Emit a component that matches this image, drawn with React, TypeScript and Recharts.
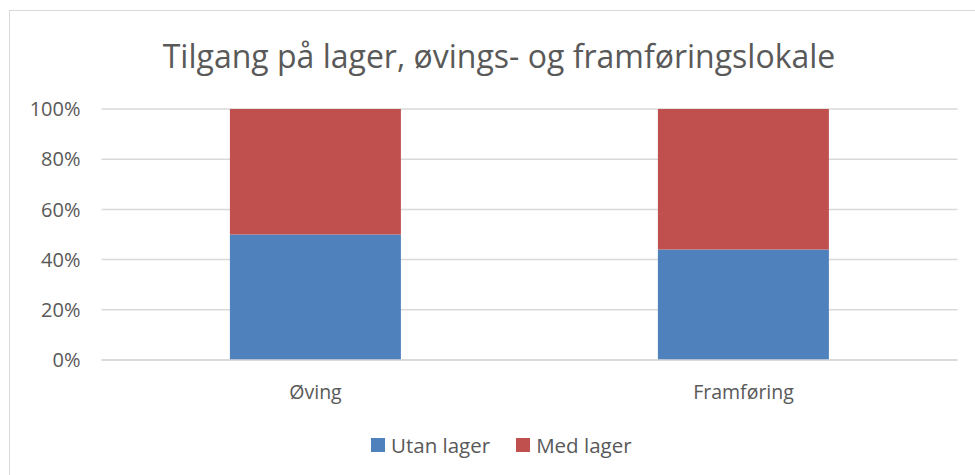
import React from "react";
import { BarChart, Bar, XAxis, YAxis, CartesianGrid } from "recharts";

const categories = ["Øving", "Framføring"];
const utanLager = [0.5, 0.44];
const medLager = [0.5, 0.56];
const yTicks = [0, 0.2, 0.4, 0.6, 0.8, 1];
const seriesNames = ["Utan lager", "Med lager"];
const colors = ["#4F81BD", "#C0504D"];

const data = categories.map((c, i) => ({ name: c, utan: utanLager[i], med: medLager[i] }));

const FONT = "'Open Sans', sans-serif";
const TXT = "#595959";

export default function App() {
  return (
    <div style={{ position: "absolute", left: 0, top: 0, width: 975, height: 475, background: "#fff", fontFamily: FONT, overflow: "hidden" }}>
      <div style={{ position: "absolute", left: 9, top: 10, width: 1000, height: 500, border: "1px solid #d9d9d9", boxSizing: "border-box" }} />
      <div style={{ position: "absolute", left: 9, width: 980, top: 34, textAlign: "center", fontSize: 32, color: TXT, whiteSpace: "nowrap" }}>
        Tilgang på lager, øvings- og framføringslokale
      </div>
      <div style={{ position: "absolute", left: 0, top: 0 }}>
        <BarChart width={975} height={475} data={data} margin={{ top: 109, right: 17.5, bottom: 85, left: 0 }} barCategoryGap="30%">
          <CartesianGrid horizontal vertical={false} stroke="#d9d9d9" strokeWidth={1.5} />
          <XAxis dataKey="name" height={30} axisLine={{ stroke: "#d9d9d9", strokeWidth: 1.5 }} tickLine={false} tickSize={0} tickMargin={25}
            tick={{ fill: TXT, fontSize: 19.5, fontFamily: FONT }} />
          <YAxis width={101.5} domain={[0, 1]} ticks={yTicks} axisLine={false} tickLine={false} tickSize={0} tickMargin={21}
            tickFormatter={(v: number) => `${Math.round(v * 100)}%`} tick={{ fill: TXT, fontSize: 20, fontFamily: FONT }} />
          <Bar dataKey="utan" stackId="a" fill={colors[0]} isAnimationActive={false} name={seriesNames[0]} />
          <Bar dataKey="med" stackId="a" fill={colors[1]} isAnimationActive={false} name={seriesNames[1]} />
        </BarChart>
      </div>
      <div style={{ position: "absolute", top: 431, left: 371, display: "flex", alignItems: "center", fontSize: 20.5, color: TXT, whiteSpace: "nowrap" }}>
        {seriesNames.map((n, i) => (
          <div key={n} style={{ display: "flex", alignItems: "center", marginRight: i === 0 ? 26 : 0 }}>
            <div style={{ width: 14, height: 14, background: colors[i], marginRight: 6 }} />
            <span>{n}</span>
          </div>
        ))}
      </div>
    </div>
  );
}
